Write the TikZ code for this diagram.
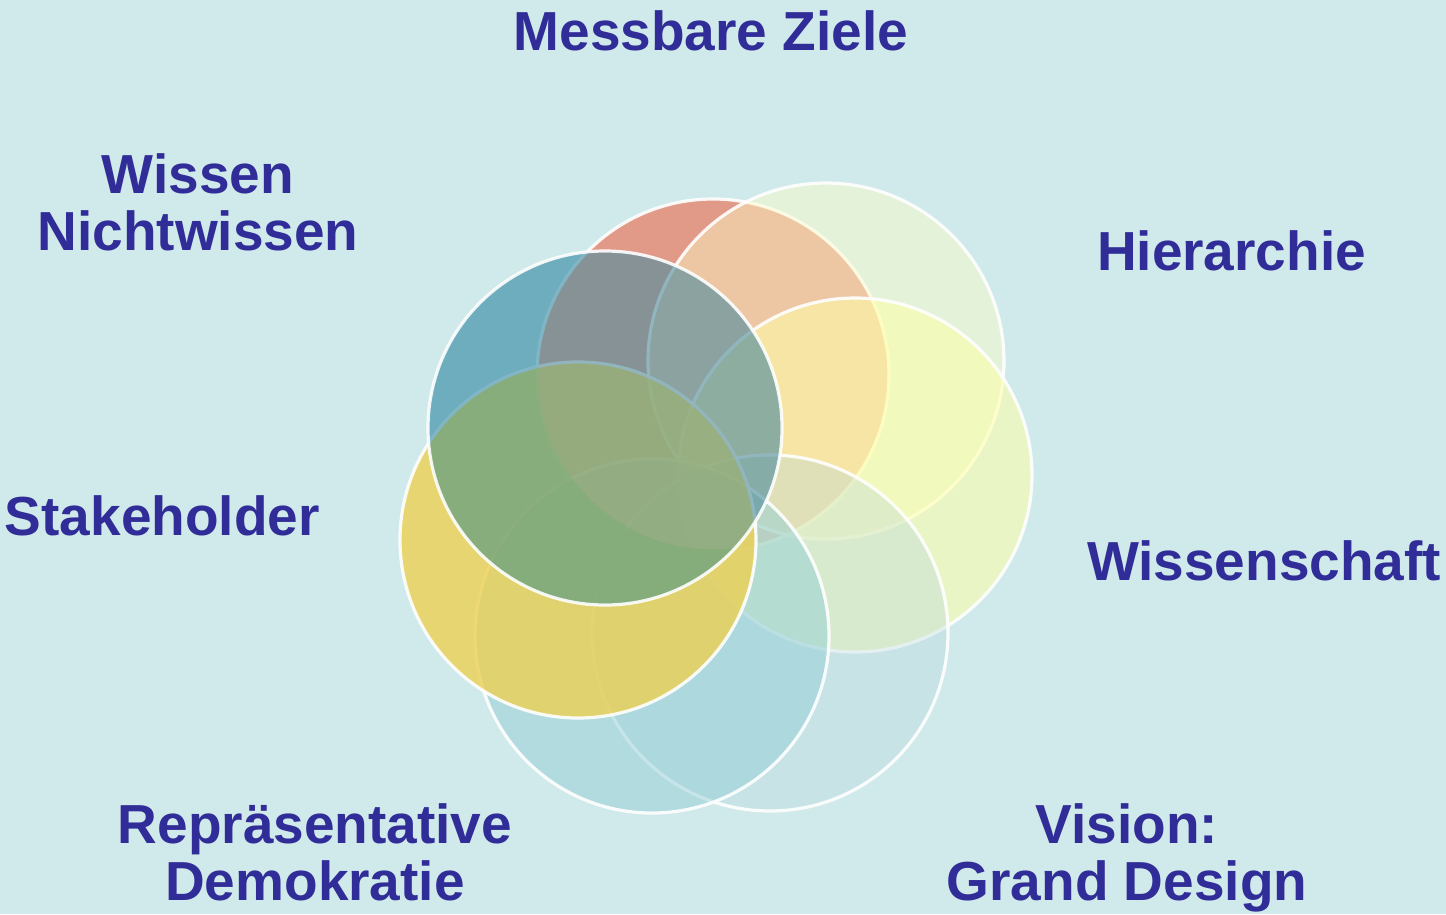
\documentclass[tikz,border=0pt]{standalone}
\usepackage{fontspec}
\setmainfont{Liberation Sans}
\definecolor{bg}{RGB}{208,233,234}
\definecolor{txt}{RGB}{48,44,152}
\definecolor{cred}{RGB}{230,134,112}
\definecolor{cpaleg}{RGB}{252,253,198}
\definecolor{cyelw}{RGB}{255,255,165}
\definecolor{cvis}{RGB}{185,216,223}
\definecolor{cblr}{RGB}{148,207,214}
\definecolor{cyels}{RGB}{236,208,82}
\definecolor{cbwn}{RGB}{30,125,155}
\definecolor{tintg}{RGB}{200,212,80}
\definecolor{tintr}{RGB}{205,185,170}
\tikzset{
  ring/.style={draw=white, draw opacity=0.9, line width=3.2pt},
  lbl/.style={text=txt, font=\bfseries\fontsize{55}{60}\selectfont, inner sep=0pt, outer sep=0pt}
}
\begin{document}
\begin{tikzpicture}[x=1pt,y=-1pt]
\useasboundingbox (0,0) rectangle (1446,914);
\fill[bg] (0,0) rectangle (1446,914);
% circles, bottom to top
\path[ring, fill=cred, fill opacity=0.8] (713,375) circle (176);
\path[ring, fill=cpaleg, fill opacity=0.45] (826,361) circle (178);
\path[ring, fill=cyelw, fill opacity=0.55] (855,475) circle (177);
\path[ring, fill=cvis, fill opacity=0.35] (770,633) circle (178);
\path[ring, fill=cblr, fill opacity=0.5] (652,636) circle (177);
\path[ring, fill=cyels, fill opacity=0.8] (578,540) circle (178);
\path[ring, fill=cbwn, fill opacity=0.55] (605,428) circle (177);
% tints of the overlaps of the top circle
\begin{scope}
  \clip (578,540) circle (176.4);
  \fill[tintg, fill opacity=0.2] (605,428) circle (175.4);
\end{scope}
\begin{scope}
  \clip (713,375) circle (174.4);
  \fill[tintr, fill opacity=0.2] (605,428) circle (175.4);
\end{scope}
% labels
\node[lbl, anchor=base] (mz) at (711,50) {Messbare Ziele};
\node[lbl, anchor=base] (wn1) at (198,193) {Wissen};
\node[lbl, anchor=base] (wn2) at (198,250) {Nichtwissen};
\node[lbl, anchor=base west] (hi) at (1097,270) {Hierarchie};
\node[lbl, anchor=base west] (ws) at (1087,580) {Wissenschaft};
\node[lbl, anchor=base west] (st) at (5,535) {Stakeholder};
\node[lbl, anchor=base] (rd1) at (315,843) {Repräsentative};
\node[lbl, anchor=base] (rd2) at (315,900) {Demokratie};
\node[lbl, anchor=base] (vg1) at (1127,843) {Vision:};
\node[lbl, anchor=base] (vg2) at (1127,900) {Grand Design};
\end{tikzpicture}
\end{document}
